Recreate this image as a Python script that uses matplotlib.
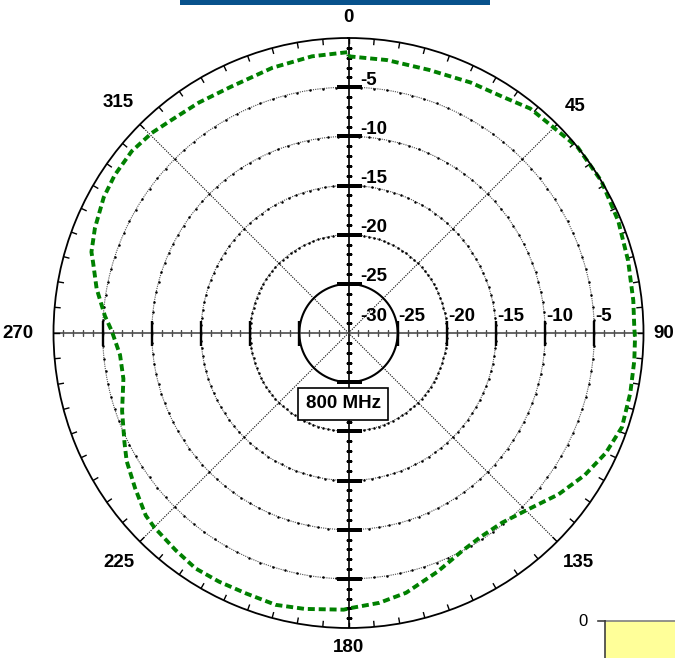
'''
Polar radiation pattern, 800 MHz
'''

# Imports
import numpy as np
import matplotlib
matplotlib.use('Agg')
import matplotlib.pyplot as plt
from matplotlib.patches import Rectangle
from matplotlib.transforms import offset_copy

plt.rcParams['font.family'] = ['Liberation Sans', 'DejaVu Sans']

# Data
angle_deg = [0, 8, 17, 26, 33, 39, 44, 51, 59, 67.5, 75.5, 83.5, 89,
             91, 95.5, 102, 109, 115, 121, 127.5, 135, 141, 147, 152.5, 159.5, 167.5, 173.5, 179.5,
             181, 189, 195, 201.5, 207.5, 213, 218.5, 225, 228, 234, 240, 244, 251, 258.5, 264.5,
             270.5, 274, 280, 285.5, 287.5, 292.5, 299, 304, 310, 315.5, 320, 327, 334.5, 344, 352.5, 360]
gain_db = [-1.86, -1.97, -2.02, -1.66, -1.33, -0.63, -0.52, 0.0, 0.0, -0.3, -0.63, -0.85, -0.93,
           -0.86, -0.8, -0.7, -0.59, -1.13, -1.96, -3.06, -4.48, -5.18, -5.29, -5.0, -4.1, -2.94, -2.38, -2.03,
           -1.86, -1.59, -1.38, -1.54, -1.49, -1.45, -1.77, -2.06, -2.26, -3.17, -3.95, -4.65, -5.65, -6.64, -6.66,
           -5.92, -5.17, -3.99, -3.04, -2.59, -2.09, -1.54, -1.31, -1.23, -1.47, -1.82, -2.06, -2.25, -1.94, -1.62, -1.43]

ring_levels = [-25, -20, -15, -10, -5]
ring_labels = ['-25', '-20', '-15', '-10', '-5']
axis_labels = ['-30', '-25', '-20', '-15', '-10', '-5']
angle_ticks = [0, 45, 90, 135, 180, 225, 270, 315]
angle_tick_labels = ['0', '45', '90', '135', '180', '225', '270', '315']
freq_label = '800 MHz'

# Layout
W, H = 675, 658
CX, CY, R = 348.5, 333, 295
label_r = [2.1, 2.6, 2.1, 3.0, 1.95, 3.0, 3.6, 3.1]   # dB beyond the outer ring
FS = 13.5


def fx(px):
    return px / W


def fy(py):
    return 1 - py / H


fig = plt.figure(figsize=(W / 100, H / 100), dpi=100)
ax = fig.add_axes([fx(CX - R), fy(CY + R), 2 * R / W, 2 * R / H], projection='polar')
ax.set_theta_zero_location('N')
ax.set_theta_direction(-1)
ax.set_ylim(-30, 0)
ax.grid(False)
ax.set_xticks([])
ax.set_yticks([])
ax.spines['polar'].set_linewidth(1.3)
ax.spines['polar'].set_color('black')

full = np.radians(np.linspace(0, 360, 721))

# rings
for lvl in ring_levels:
    if lvl == -25:
        ax.plot(full, np.full_like(full, lvl), color='black', lw=1.5)
    else:
        ax.plot(full, np.full_like(full, lvl), color='0.3', lw=0.8, ls=(0, (1, 1)))
        dots = np.radians(np.arange(0, 360, 3))
        ax.plot(dots, np.full_like(dots, lvl), ls='none', marker='.', ms=1.6, color='black')

# diagonal spokes
for a in [45, 135, 225, 315]:
    ax.plot([np.radians(a)] * 2, [-30, 0], color='black', lw=0.8, ls=(0, (1, 1.2)))

# main axes with dB ticks
minor = np.arange(-29, 0, 1)
major = np.arange(-25, 0, 5)
for a in [0, 90, 180, 270]:
    t = np.radians(a)
    col = 'black' if a in (0, 180) else '0.3'
    ax.plot([t, t], [-30, 0], color=col, lw=1.2)
    mk = '_' if a in (0, 180) else '|'
    ax.plot(np.full_like(minor, t, dtype=float), minor, ls='none', marker=mk, ms=5, mew=1, color=col)
    ax.plot(np.full_like(major, t, dtype=float), major, ls='none', marker=mk, ms=18, mew=1.7, color='black')

# outer ring ticks every 5 degrees
for a in range(0, 360, 5):
    t = np.radians(a)
    ax.plot([t, t], [-0.55, 0], color='black', lw=1)

# pattern
th = np.radians(angle_deg)
g = np.array(gain_db)
ax.plot(np.append(th, th[0]), np.append(g, g[0]), color='#008000', lw=2.8,
        ls=(0, (1.8, 1.0)), clip_on=False)

# angle labels
for a, lab, rr in zip(angle_ticks, angle_tick_labels, label_r):
    ax.text(np.radians(a), rr, lab, ha='center', va='center', fontsize=FS,
            fontweight='bold', clip_on=False)

# dB labels along the vertical axis
for lvl, lab in zip(ring_levels, ring_labels):
    tr = offset_copy(ax.transData, fig=fig, x=8.3, y=1.7, units='points')
    ax.text(0, lvl, lab, transform=tr, ha='left', va='baseline', fontsize=FS, fontweight='bold')

# dB labels along the horizontal axis
for lvl, lab in zip([-30] + ring_levels, axis_labels):
    dx = 8.3 if lvl == -30 else 0.7
    tr = offset_copy(ax.transData, fig=fig, x=dx, y=8.6, units='points')
    ax.text(np.radians(90), lvl, lab, transform=tr, ha='left', va='baseline',
            fontsize=FS, fontweight='bold')

# frequency box
fig.text(fx(343.5), fy(404), freq_label, ha='center', va='center', fontsize=FS,
         fontweight='bold',
         bbox=dict(boxstyle='square,pad=0.4', fc='white', ec='black', lw=1.2))

# header bar
fig.add_artist(Rectangle((fx(180), fy(4.5)), fx(310), 4.5 / H, transform=fig.transFigure,
                         fc='#08528C', ec='none'))

# neighbouring panel corner
fig.add_artist(Rectangle((fx(605), 0), fx(80), fy(621), transform=fig.transFigure,
                         fc='#FFFF99', ec='none'))
fig.add_artist(plt.Line2D([fx(605), 1], [fy(621), fy(621)], transform=fig.transFigure,
                          color='#808080', lw=1.2))
fig.add_artist(plt.Line2D([fx(605), fx(605)], [0, fy(621)], transform=fig.transFigure,
                          color='#404040', lw=1.2))
fig.add_artist(plt.Line2D([fx(598), fx(605)], [fy(621), fy(621)], transform=fig.transFigure,
                          color='#404040', lw=1.2))
fig.text(fx(583), fy(622), '0', ha='center', va='center', fontsize=12)

fig.savefig('out.png', dpi=100)
